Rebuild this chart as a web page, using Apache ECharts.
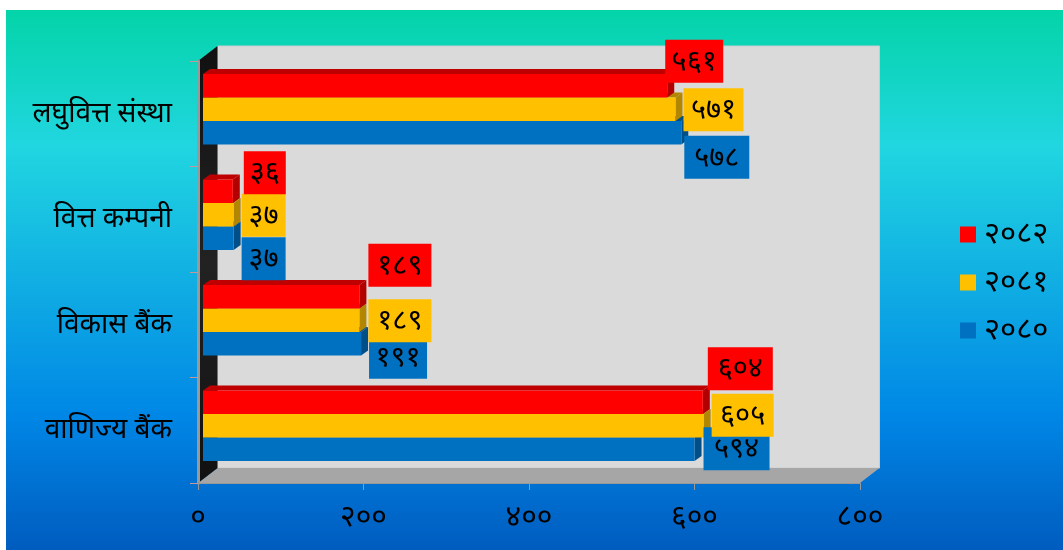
<!DOCTYPE html>
<html><head><meta charset="utf-8">
<style>html,body{margin:0;padding:0;background:#fff}#c{width:1063px;height:550px}</style>
<script src="https://cdn.jsdelivr.net/npm/echarts@6/dist/echarts.min.js"></script></head>
<body><div id="c"></div>
<script>
// Data
const categories = ['वाणिज्य बैंक','विकास बैंक','वित्त कम्पनी','लघुवित्त संस्था'];
const xTicks = {0:'०',200:'२००',400:'४००',600:'६००',800:'८००'};
const years = ['२०८२','२०८१','२०८०'];
const values2082 = [604,189,36,561];
const values2081 = [605,189,37,571];
const values2080 = [594,191,37,578];
// Hand-placed data label boxes in the reference: [dx from bar end, dy from bar middle, width]
const labelNudge2082 = [[5,-55,65],[9,-53,63],[11,-40,42],[-2,-46,58]];
const labelNudge2081 = [[8,-32,62],[9,-21,63],[8,-21,44],[8,-21,60]];
const labelNudge2080 = [[9,-22,66],[8,-8,58],[8,-1,44],[3,3,65]];

const FONT = '"Noto Sans", "DejaVu Sans", sans-serif';
const devanagari = n => String(n).replace(/\d/g, d => '०१२३४५६७८९'[d]);
const DEPTH = [19.5,-15], BAR_OFF = [5,-4.5], BAR_DEPTH = [7,-5], BAR_H = 23.5, LABEL_H = 43;
const poly = (pts, fill, z2) => ({type:'polygon', shape:{points:pts}, style:{fill}, z2:z2||0, silent:true});

function wallsRender(params, api){
  const c = params.coordSys, x0=c.x, x1=c.x+c.width, y0=c.y, y1=c.y+c.height, dx=DEPTH[0], dy=DEPTH[1];
  return {type:'group', children:[
    poly([[x0+dx,y0+dy],[x1+dx,y0+dy],[x1+dx,y1+dy],[x0+dx,y1+dy]],'#DADADA'),
    {type:'rect',shape:{x:x0+dx,y:y0+dy,width:c.width,height:c.height},style:{fill:'none',stroke:'#c8ccd0',lineWidth:1},silent:true},
    poly([[x0,y1],[x0+dx,y1+dy],[x1+dx,y1+dy],[x1,y1]],'#A6A6A6'),
    {type:'polygon',shape:{points:[[x0,y0],[x0+dx,y0+dy],[x0+dx,y1+dy],[x0,y1]]},
     style:{fill:new echarts.graphic.LinearGradient(0,0,0,1,[{offset:0,color:'#111'},{offset:.5,color:'#222'},{offset:1,color:'#111'}])},silent:true}
  ]};
}
function barRender(idxOffset, front, top, side){
  return function(params, api){
    const v=api.value(0), cat=api.value(1);
    const end=api.coord([v,cat]), start=api.coord([0,cat]);
    const x0=start[0]+BAR_OFF[0], x1=end[0]+BAR_OFF[0];
    const yc=end[1]+BAR_OFF[1]+idxOffset*BAR_H, yt=yc-BAR_H/2, yb=yc+BAR_H/2;
    const ddx=BAR_DEPTH[0], ddy=BAR_DEPTH[1];
    return {type:'group',children:[
      poly([[x0,yt],[x0+ddx,yt+ddy],[x1+ddx,yt+ddy],[x1,yt]],top),
      poly([[x1,yt],[x1+ddx,yt+ddy],[x1+ddx,yb+ddy],[x1,yb]],side),
      {type:'rect',shape:{x:x0,y:yt,width:x1-x0,height:BAR_H},style:{fill:front},silent:true}
    ]};
  };
}
function labelRender(idxOffset, fill, nudges){
  return function(params, api){
    const v=api.value(0), cat=api.value(1), n=nudges[params.dataIndex];
    const end=api.coord([v,cat]);
    const x=end[0]+BAR_OFF[0]+n[0], y=end[1]+BAR_OFF[1]+idxOffset*BAR_H+n[1];
    return {type:'group',children:[
      {type:'rect',shape:{x,y,width:n[2],height:LABEL_H},style:{fill},silent:true},
      {type:'text',x:x+n[2]/2,y:y+LABEL_H/2,silent:true,
       style:{text:devanagari(v),fill:'#000',font:'29px '+FONT,align:'center',verticalAlign:'middle'}}
    ]};
  };
}
const rows = vals => vals.map((v,i)=>[v,i]);
const barSeries=(name,vals,off,f,t,s)=>({type:'custom',name,coordinateSystem:'cartesian2d',z:3,itemStyle:{color:f},
  data:rows(vals),encode:{x:0,y:1},renderItem:barRender(off,f,t,s),silent:true});
const labelSeries=(name,vals,off,f,n,z)=>({type:'custom',name,coordinateSystem:'cartesian2d',z,
  data:rows(vals),encode:{x:0,y:1},renderItem:labelRender(off,f,n),silent:true});

const chart=echarts.init(document.getElementById('c'),null,{renderer:'canvas'});
chart.setOption({
  animation:false,
  graphic:[{type:'rect',z:-10,silent:true,shape:{x:6,y:10,width:1057,height:540},
    style:{fill:new echarts.graphic.LinearGradient(0,0,0,1,[
      {offset:0,color:'#03D4A8'},{offset:.25,color:'#21D6E0'},{offset:.75,color:'#0087E6'},{offset:1,color:'#005CBF'}])}}],
  grid:{left:198,top:61,width:662,height:422,containLabel:false},
  xAxis:{type:'value',min:0,max:800,interval:200,splitLine:{show:false},z:2,
    axisLine:{show:true,lineStyle:{color:'#999',width:1}},
    axisTick:{show:true,length:7,lineStyle:{color:'#999',width:1}},
    axisLabel:{formatter:v=>xTicks[v],color:'#000',fontSize:30,fontFamily:FONT,margin:19}},
  yAxis:{type:'category',data:categories,z:2,
    axisLine:{show:true,onZero:false,lineStyle:{color:'#999',width:3}},
    axisTick:{show:true,length:8,lineStyle:{color:'#c09a9a',width:1}},
    axisLabel:{color:'#000',fontSize:28,fontFamily:FONT,margin:26}},
  legend:{show:true,orient:'vertical',left:955,top:214,itemWidth:16,itemHeight:16,itemGap:17,icon:'rect',
    data:years,textStyle:{color:'#000',fontSize:31,fontFamily:FONT,padding:[0,0,0,3]},selectedMode:false},
  series:[
    {type:'custom',name:'walls',coordinateSystem:'cartesian2d',z:1,data:[[0,0]],renderItem:wallsRender,silent:true},
    barSeries(years[2],values2080,1,'#0070C0','#004F88','#004F88'),
    barSeries(years[1],values2081,0,'#FFC000','#B38600','#B38600'),
    barSeries(years[0],values2082,-1,'#FF0000','#BE0000','#B20000'),
    labelSeries('l2080',values2080,1,'#0070C0',labelNudge2080,4),
    labelSeries('l2081',values2081,0,'#FFC000',labelNudge2081,5),
    labelSeries('l2082',values2082,-1,'#FF0000',labelNudge2082,6)
  ]
});
</script></body></html>
